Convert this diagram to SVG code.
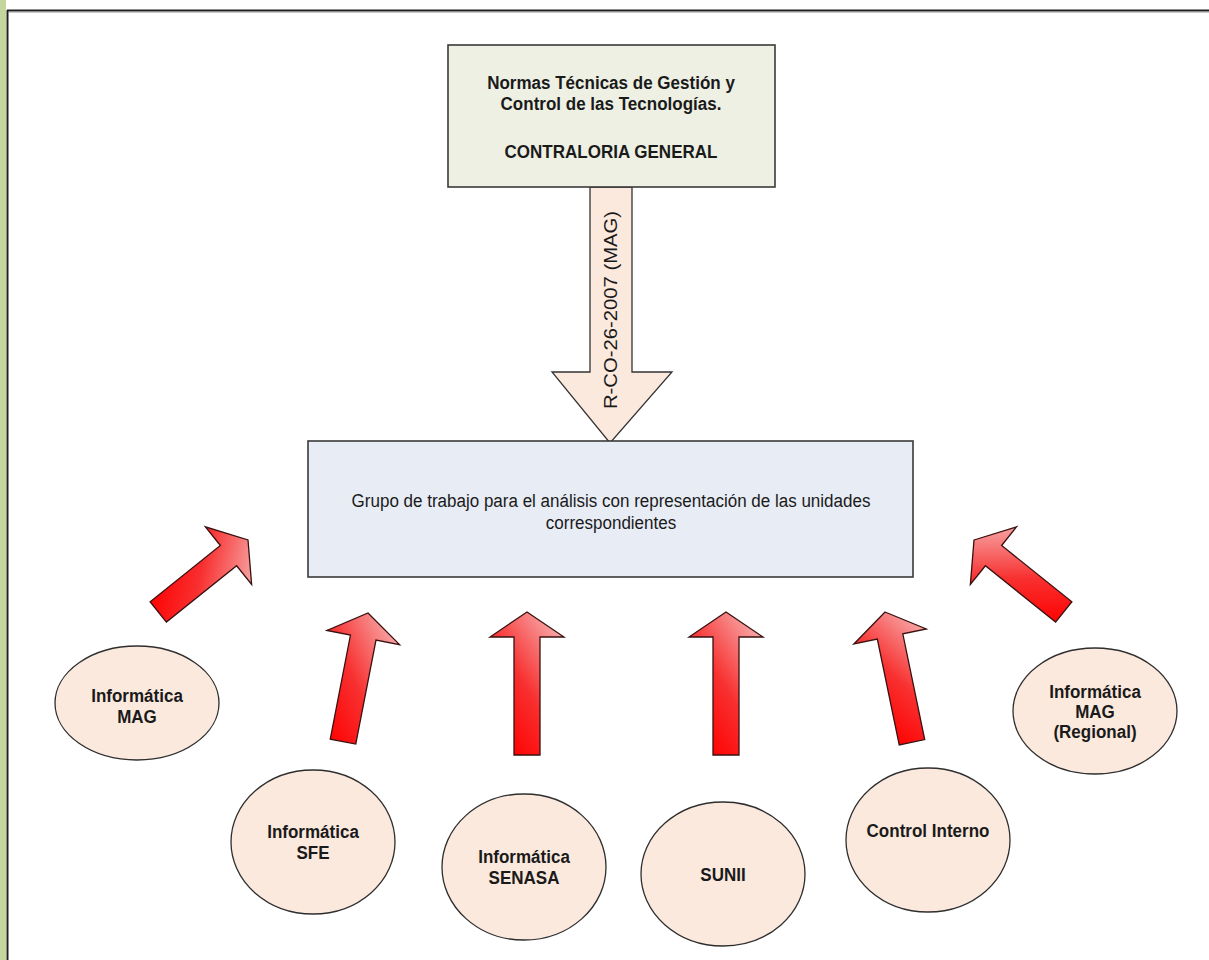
<svg xmlns="http://www.w3.org/2000/svg" width="1209" height="960" viewBox="0 0 1209 960">
<defs>
<style>
.t{font-family:"Liberation Sans",Arial,sans-serif;fill:#1a1a1a;text-anchor:middle}
.b{font-weight:bold;font-size:18.5px}
.r{font-size:18px}
.ell{fill:#fbe9dd;stroke:#2e2e2e;stroke-width:1.3}
.box{stroke:#3a3a3a;stroke-width:1.6}
.red{fill:url(#rg);stroke:#3a1010;stroke-width:1.3;stroke-linejoin:miter}
</style>
<linearGradient id="rg" x1="0.9" y1="0.05" x2="0.2" y2="0.95">
<stop offset="0" stop-color="#f7b0b0"/>
<stop offset="0.55" stop-color="#f83030"/>
<stop offset="1" stop-color="#ff0000"/>
</linearGradient>
</defs>
<rect width="1209" height="960" fill="#ffffff"/>
<g id="frame">
<rect x="0" y="0" width="6" height="960" fill="#c3d69b"/>
<line x1="7" y1="10.5" x2="1209" y2="10.5" stroke="#1e1e1e" stroke-width="2"/>
<line x1="7.5" y1="10" x2="7.5" y2="960" stroke="#1e1e1e" stroke-width="2"/>
<line x1="9" y1="12.5" x2="1209" y2="12.5" stroke="#c8c8c8" stroke-width="1"/>
</g>
<g id="connectors">
<g id="down-arrow">
<path d="M590,187 L632,187 L632,372 L672,372 L610,443 L552,372 L590,372 Z" fill="#fbe9dd" stroke="#333" stroke-width="1.3"/>
<text class="t" font-size="19" transform="translate(617,310) rotate(-90)" textLength="198" lengthAdjust="spacingAndGlyphs">R-CO-26-2007 (MAG)</text>
</g>
<path class="red" transform="translate(248,540) rotate(51.3)" d="M0,0 L37,25 L13,25 L13,115 L-13,115 L-13,25 L-37,25 Z"/>
<path class="red" transform="translate(368,613) rotate(11)" d="M0,0 L37,25 L13,25 L13,131 L-13,131 L-13,25 L-37,25 Z"/>
<path class="red" transform="translate(527,612)" d="M0,0 L37,25 L13,25 L13,143 L-13,143 L-13,25 L-37,25 Z"/>
<path class="red" transform="translate(726,612)" d="M0,0 L37,25 L13,25 L13,143 L-13,143 L-13,25 L-37,25 Z"/>
<path class="red" transform="translate(885,612) rotate(-11.7)" d="M0,0 L37,25 L13,25 L13,133 L-13,133 L-13,25 L-37,25 Z"/>
<path class="red" transform="translate(974,540) rotate(-51.3)" d="M0,0 L37,25 L13,25 L13,115 L-13,115 L-13,25 L-37,25 Z"/>
</g>
<g id="normas">
<rect class="box" x="448" y="45" width="327" height="142" fill="#eef0e3"/>
<text class="t b" transform="translate(611,89) scale(0.92,1)">Normas Técnicas de Gestión y</text>
<text class="t b" transform="translate(611,110) scale(0.92,1)">Control de las Tecnologías.</text>
<text class="t b" transform="translate(611,158) scale(0.92,1)">CONTRALORIA GENERAL</text>
</g>
<g id="grupo">
<rect class="box" x="308" y="441" width="605" height="136" fill="#e8ecf5"/>
<text class="t r" transform="translate(611,507) scale(0.945,1)">Grupo de trabajo para el análisis con representación de las unidades</text>
<text class="t r" transform="translate(611,529) scale(0.945,1)">correspondientes</text>
</g>
<g id="info-mag">
<ellipse class="ell" cx="137" cy="703" rx="82" ry="57"/>
<text class="t b" transform="translate(137,702) scale(0.92,1)">Informática</text>
<text class="t b" transform="translate(137,723) scale(0.92,1)">MAG</text>
</g>
<g id="info-sfe">
<ellipse class="ell" cx="313" cy="842" rx="82" ry="72"/>
<text class="t b" transform="translate(313,838) scale(0.92,1)">Informática</text>
<text class="t b" transform="translate(313,859) scale(0.92,1)">SFE</text>
</g>
<g id="info-senasa">
<ellipse class="ell" cx="524" cy="867" rx="82" ry="73"/>
<text class="t b" transform="translate(524,863) scale(0.92,1)">Informática</text>
<text class="t b" transform="translate(524,884) scale(0.92,1)">SENASA</text>
</g>
<g id="sunii">
<ellipse class="ell" cx="723" cy="874" rx="82" ry="72"/>
<text class="t b" transform="translate(723,881) scale(0.92,1)">SUNII</text>
</g>
<g id="control-interno">
<ellipse class="ell" cx="928" cy="840" rx="82" ry="72"/>
<text class="t b" transform="translate(928,837) scale(0.92,1)">Control Interno</text>
</g>
<g id="info-mag-regional">
<ellipse class="ell" cx="1095" cy="711" rx="82" ry="63"/>
<text class="t b" transform="translate(1095,698) scale(0.92,1)">Informática</text>
<text class="t b" transform="translate(1095,718) scale(0.92,1)">MAG</text>
<text class="t b" transform="translate(1095,738) scale(0.92,1)">(Regional)</text>
</g>
</svg>
